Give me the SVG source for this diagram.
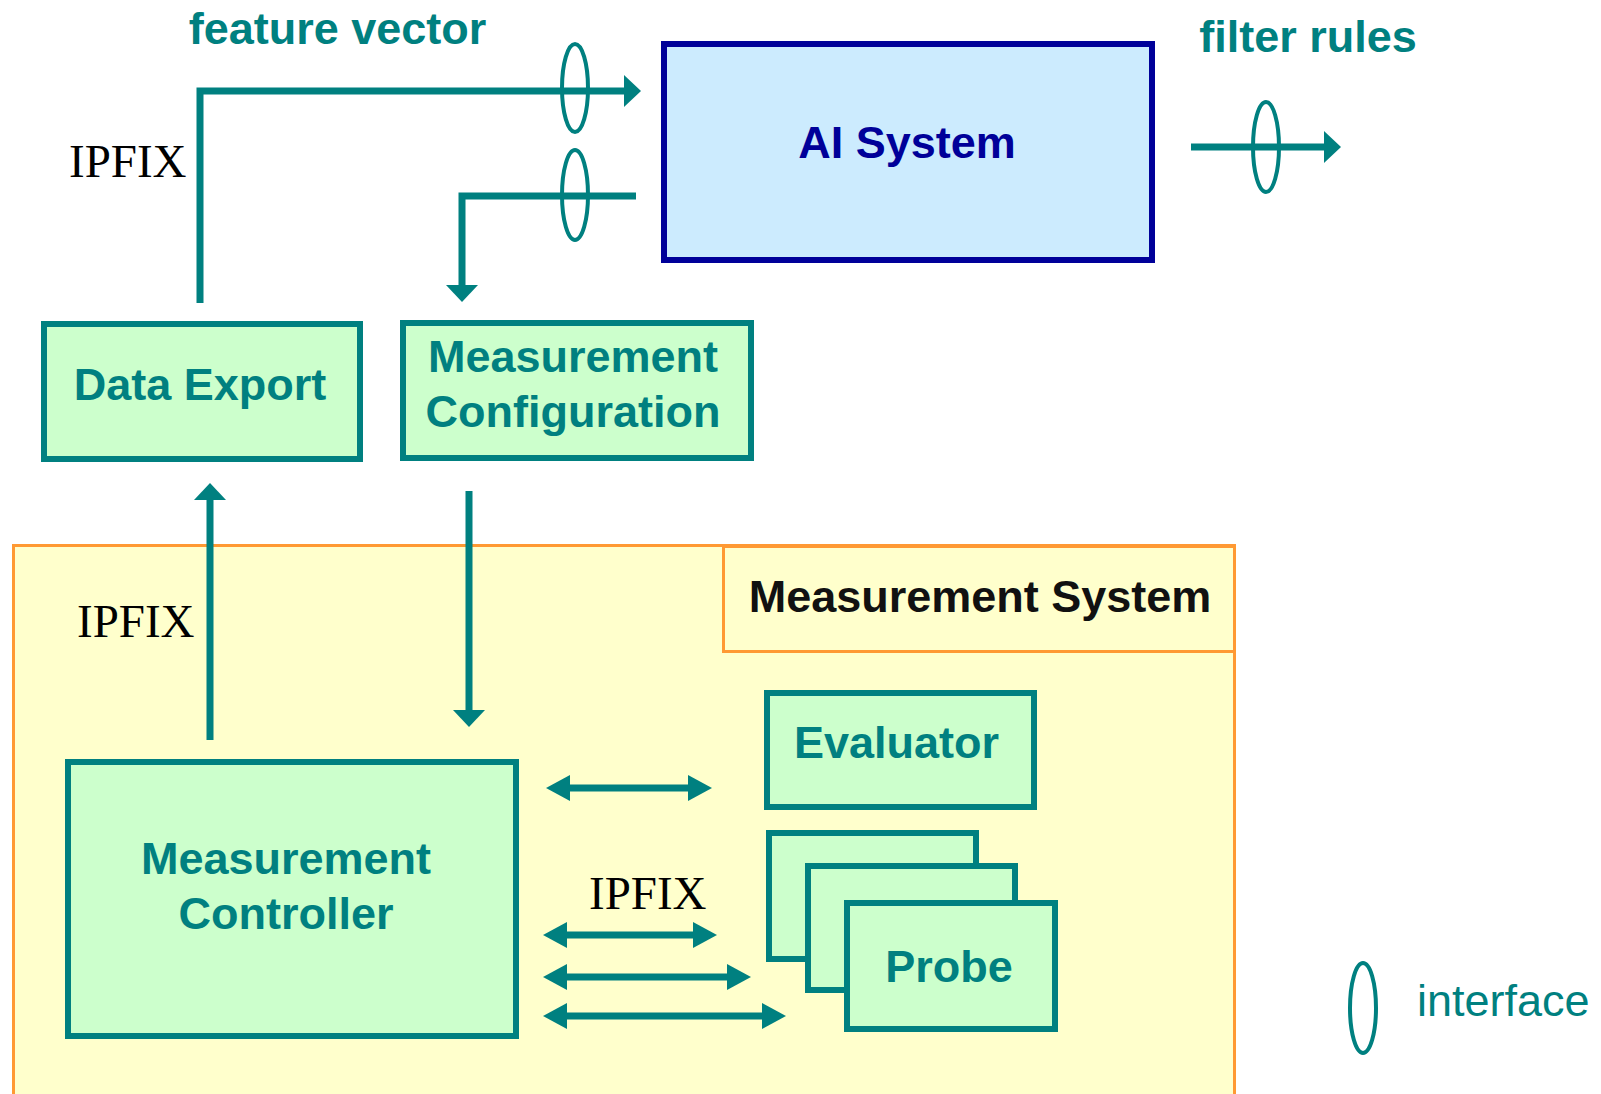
<svg xmlns="http://www.w3.org/2000/svg" width="1601" height="1094" viewBox="0 0 1601 1094">
<style>
.node{fill:#CCFFCC;stroke:#008080;stroke-width:6}
.lbl{font-family:"Liberation Sans",Arial,sans-serif;font-weight:bold;font-size:45px;fill:#008080;text-anchor:middle}
.ipfix{font-family:"Liberation Serif","Times New Roman",serif;font-size:47px;fill:#000}
.con{fill:none;stroke:#008080;stroke-width:7}
.ifc{fill:none;stroke:#008080;stroke-width:4}
</style>
<defs>
<marker id="ah" markerUnits="userSpaceOnUse" viewBox="0 0 17 32" markerWidth="17" markerHeight="32" refX="7" refY="16" orient="auto-start-reverse"><path d="M0,0 L17,16 L0,32 z" fill="#008080"/></marker>
<marker id="dh" markerUnits="userSpaceOnUse" viewBox="0 0 24 26" markerWidth="24" markerHeight="26" refX="12" refY="13" orient="auto-start-reverse"><path d="M0,0 L24,13 L0,26 z" fill="#008080"/></marker>
</defs>
<rect width="1601" height="1094" fill="#fff"/>
<g id="measurement-system">
<rect x="13.5" y="545.5" width="1221" height="600" fill="#FFFFCC" stroke="#FF9933" stroke-width="3"/>
<rect x="723.5" y="546.5" width="511" height="105" fill="#FFFFCC" stroke="#FF9933" stroke-width="3"/>
<text x="980" y="612" class="lbl" style="fill:#111">Measurement System</text>
</g>
<g id="ai-system">
<rect x="664" y="44" width="488" height="216" fill="#CCEBFE" stroke="#000099" stroke-width="6"/>
<text x="907" y="158" class="lbl" style="fill:#000099">AI System</text>
</g>
<g id="data-export">
<rect x="44" y="324" width="316" height="135" class="node"/>
<text x="200" y="400" class="lbl">Data Export</text>
</g>
<g id="measurement-configuration">
<rect x="403" y="323" width="348" height="135" class="node"/>
<text x="573" y="372" class="lbl">Measurement</text>
<text x="573" y="427" class="lbl">Configuration</text>
</g>
<g id="evaluator">
<rect x="767" y="693" width="267" height="114" class="node"/>
<text x="896.5" y="758" class="lbl">Evaluator</text>
</g>
<g id="measurement-controller">
<rect x="68" y="762" width="448" height="274" class="node"/>
<text x="286" y="874" class="lbl">Measurement</text>
<text x="286" y="929" class="lbl">Controller</text>
</g>
<g id="probe">
<rect x="769" y="833" width="207" height="126" class="node"/>
<rect x="808" y="866" width="207" height="124" class="node"/>
<rect x="847" y="903" width="208" height="126" class="node"/>
<text x="949" y="982" class="lbl">Probe</text>
</g>
<g id="connectors">
<path d="M200,303 V91 H631" class="con" marker-end="url(#ah)"/>
<path d="M636,196 H462 V292" class="con" marker-end="url(#ah)"/>
<path d="M1191,147 H1331" class="con" marker-end="url(#ah)"/>
<path d="M210,740 V493" class="con" marker-end="url(#ah)"/>
<path d="M469,491 V717" class="con" marker-end="url(#ah)"/>
<path d="M558,788 H700" class="con" marker-start="url(#dh)" marker-end="url(#dh)"/>
<path d="M555,935 H705" class="con" marker-start="url(#dh)" marker-end="url(#dh)"/>
<path d="M555,977 H739" class="con" marker-start="url(#dh)" marker-end="url(#dh)"/>
<path d="M555,1016 H774" class="con" marker-start="url(#dh)" marker-end="url(#dh)"/>
<ellipse cx="575" cy="88" rx="13" ry="44" class="ifc"/>
<ellipse cx="575" cy="195" rx="13" ry="45" class="ifc"/>
<ellipse cx="1266" cy="147" rx="13" ry="45" class="ifc"/>
</g>
<g id="labels">
<text x="337.5" y="44" class="lbl">feature vector</text>
<text x="1308" y="52" class="lbl">filter rules</text>
<text x="69" y="177" class="ipfix">IPFIX</text>
<text x="77" y="637" class="ipfix">IPFIX</text>
<text x="589" y="909" class="ipfix">IPFIX</text>
</g>
<g id="legend">
<ellipse cx="1363" cy="1008" rx="13" ry="45" class="ifc"/>
<text x="1417" y="1016" style="font-family:'Liberation Sans',Arial,sans-serif;font-size:45px;fill:#008080">interface</text>
</g>
</svg>
